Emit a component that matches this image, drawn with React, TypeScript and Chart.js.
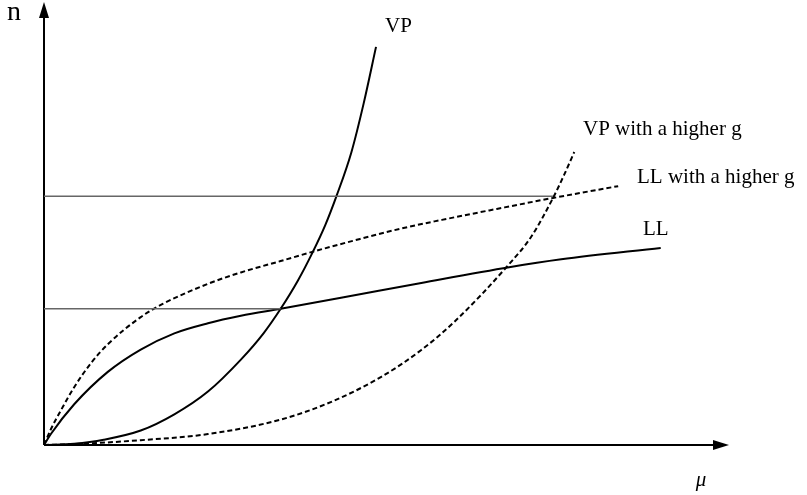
import React, { useEffect, useRef } from "react";
import { Chart, registerables } from "chart.js";

Chart.register(...registerables);

// Curves (μ on x, n on y); axes run 0..10
const vpMu = [0, 0.44, 0.87, 1.41, 1.9, 2.39, 2.87, 3.2, 3.45, 3.7, 3.91, 4.1, 4.27, 4.48, 4.66, 4.84];
const vpN = [0, 0.03, 0.12, 0.33, 0.7, 1.22, 1.95, 2.55, 3.11, 3.75, 4.38, 5.02, 5.71, 6.68, 7.8, 9.09];

const llMu = [0, 0.1, 0.44, 0.93, 1.41, 1.9, 2.39, 2.87, 3.45, 4.33, 5.5, 6.78, 7.54, 8.99];
const llN = [0, 0.25, 0.93, 1.67, 2.18, 2.55, 2.78, 2.95, 3.11, 3.36, 3.7, 4.06, 4.24, 4.5];

const vpHiMu = [0, 0.44, 1.41, 2.39, 3.45, 4.18, 4.91, 5.5, 5.98, 6.78, 7.1, 7.42, 7.58, 7.73];
const vpHiN = [0, 0.02, 0.11, 0.25, 0.58, 0.98, 1.55, 2.17, 2.81, 4.13, 4.75, 5.64, 6.16, 6.69];

const llHiMu = [0, 0.1, 0.25, 0.44, 0.7, 0.93, 1.41, 1.73, 2.39, 2.87, 3.45, 3.91, 4.5, 5.2, 5.8, 6.6, 7.42, 8.37];
const llHiN = [0, 0.36, 0.8, 1.32, 1.9, 2.3, 2.92, 3.22, 3.68, 3.94, 4.2, 4.41, 4.66, 4.94, 5.14, 5.39, 5.64, 5.91];

// Reference levels (horizontal guides)
const levelLowMu = [0, 3.45];
const levelLowN = [3.11, 3.11];
const levelHighMu = [0, 7.42];
const levelHighN = [5.68, 5.68];

const curveLabels = ["VP", "LL", "VP with a higher g", "LL with a higher g"];
const axisLabels = ["μ", "n"];

const zip = (xs: number[], ys: number[]) => xs.map((x, i) => ({ x, y: ys[i] }));

const SERIF = "'Liberation Serif', 'Times New Roman', serif";

const decorPlugin = {
  id: "decor",
  beforeDatasetsDraw(chart: any) {
    const { ctx, scales } = chart;
    const x0 = scales.x.getPixelForValue(0);
    const y0 = scales.y.getPixelForValue(0);
    const yTop = scales.y.getPixelForValue(10) - 5;
    const xEnd = scales.x.getPixelForValue(10) - 1;
    ctx.save();
    ctx.strokeStyle = "#000";
    ctx.fillStyle = "#000";
    ctx.lineWidth = 2;
    ctx.beginPath();
    ctx.moveTo(x0, y0);
    ctx.lineTo(x0, yTop + 14);
    ctx.moveTo(x0, y0);
    ctx.lineTo(xEnd - 15, y0);
    ctx.stroke();
    ctx.beginPath();
    ctx.moveTo(x0, yTop);
    ctx.lineTo(x0 - 5, yTop + 16);
    ctx.lineTo(x0 + 5, yTop + 16);
    ctx.closePath();
    ctx.fill();
    ctx.beginPath();
    ctx.moveTo(xEnd, y0);
    ctx.lineTo(xEnd - 16, y0 - 5);
    ctx.lineTo(xEnd - 16, y0 + 5);
    ctx.closePath();
    ctx.fill();
    ctx.restore();
  },
  afterDraw(chart: any) {
    const { ctx } = chart;
    ctx.save();
    ctx.fillStyle = "#000";
    ctx.textAlign = "left";
    ctx.textBaseline = "alphabetic";
    ctx.font = `21px ${SERIF}`;
    ctx.fillText(curveLabels[0], 385, 32);
    ctx.fillText(curveLabels[1], 643, 235);
    ctx.fillText(curveLabels[2], 583, 135);
    ctx.fillText(curveLabels[3], 637, 183);
    ctx.font = `28px ${SERIF}`;
    ctx.fillText(axisLabels[1], 7, 20);
    ctx.font = `italic 21px ${SERIF}`;
    ctx.textAlign = "center";
    ctx.fillText(axisLabels[0], 701, 486);
    ctx.restore();
  },
};

export default function App() {
  const ref = useRef<HTMLCanvasElement | null>(null);
  useEffect(() => {
    if (!ref.current) return;
    const solid = { borderColor: "#000", borderWidth: 2, pointRadius: 0, cubicInterpolationMode: "monotone" as const, fill: false };
    const dashed = { ...solid, borderDash: [5, 3] };
    const guide = { borderColor: "#666", borderWidth: 1.6, pointRadius: 0, fill: false, tension: 0 };
    const chart = new Chart(ref.current, {
      type: "line",
      data: {
        datasets: [
          { label: "level low", data: zip(levelLowMu, levelLowN), ...guide },
          { label: "level high", data: zip(levelHighMu, levelHighN), ...guide },
          { label: curveLabels[0], data: zip(vpMu, vpN), ...solid },
          { label: curveLabels[1], data: zip(llMu, llN), ...solid },
          { label: curveLabels[2], data: zip(vpHiMu, vpHiN), ...dashed },
          { label: curveLabels[3], data: zip(llHiMu, llHiN), ...dashed },
        ] as any,
      },
      options: {
        animation: false,
        responsive: false,
        maintainAspectRatio: false,
        layout: { padding: { left: 44, top: 7, right: 77, bottom: 50 } },
        plugins: { legend: { display: false }, tooltip: { enabled: false } },
        scales: {
          x: { type: "linear", min: 0, max: 10, display: false },
          y: { type: "linear", min: 0, max: 10, display: false },
        },
      },
      plugins: [decorPlugin],
    });
    return () => chart.destroy();
  }, []);
  return (
    <div style={{ position: "absolute", left: 0, top: 0, width: 807, height: 495, background: "#fff" }}>
      <canvas ref={ref} width={807} height={495} />
    </div>
  );
}
